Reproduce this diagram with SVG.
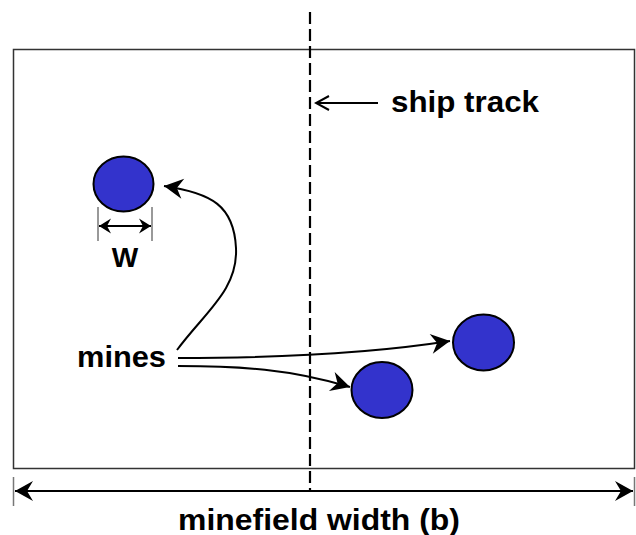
<svg xmlns="http://www.w3.org/2000/svg" width="636" height="535" viewBox="0 0 636 535">
<style>
.lbl{font-family:"Liberation Sans",Arial,sans-serif;font-weight:bold;fill:#000;font-size:29px}
.mine{fill:#3333CC;stroke:#000;stroke-width:2}
.con{fill:none;stroke:#000;stroke-width:2}
.tick{stroke:#777;stroke-width:1.5}
</style>
<defs>
<marker id="barb" markerUnits="userSpaceOnUse" markerWidth="24" markerHeight="24" viewBox="-21 -12 24 24" refX="0" refY="0" orient="auto">
<path d="M0,0 L-19,-10 L-13,0 L-19,10 Z" fill="#000"/>
</marker>
<marker id="barbS" markerUnits="userSpaceOnUse" markerWidth="16" markerHeight="16" viewBox="-14 -8 16 16" refX="0" refY="0" orient="auto-start-reverse">
<path d="M0,0 L-12,-7.5 L-8,0 L-12,7.5 Z" fill="#000"/>
</marker>
<marker id="barbD" markerUnits="userSpaceOnUse" markerWidth="24" markerHeight="24" viewBox="-21 -12 24 24" refX="0" refY="0" orient="auto-start-reverse">
<path d="M0,0 L-18,-10 L-12,0 L-18,10 Z" fill="#000"/>
</marker>
<marker id="open" markerUnits="userSpaceOnUse" markerWidth="18" markerHeight="18" viewBox="-16 -9 18 18" refX="0" refY="0" orient="auto">
<path d="M-13,-7 L0,0 L-13,7" fill="none" stroke="#000" stroke-width="2"/>
</marker>
</defs>
<g id="minefield">
<rect x="13.5" y="49.5" width="621" height="419" fill="none" stroke="#333" stroke-width="1.5"/>
</g>
<g id="ship-track">
<line x1="310" y1="12" x2="310" y2="490" stroke="#000" stroke-width="2.2" stroke-dasharray="12,5"/>
<text class="lbl" x="391" y="112" textLength="148" lengthAdjust="spacingAndGlyphs">ship track</text>
</g>
<g id="mine1">
<ellipse class="mine" cx="123.5" cy="184" rx="30" ry="27.5"/>
</g>
<g id="mine2">
<ellipse class="mine" cx="483.5" cy="342.5" rx="30.5" ry="28"/>
</g>
<g id="mine3">
<ellipse class="mine" cx="382" cy="390" rx="30.5" ry="28"/>
</g>
<g id="width-w">
<line class="tick" x1="98" y1="207" x2="98" y2="241"/>
<line class="tick" x1="152" y1="207" x2="152" y2="241"/>
<line x1="99" y1="226" x2="151" y2="226" stroke="#000" stroke-width="2" marker-start="url(#barbS)" marker-end="url(#barbS)"/>
<text class="lbl" x="125" y="267" text-anchor="middle" style="font-size:28px">W</text>
</g>
<g id="mines-label">
<text class="lbl" x="77" y="367" textLength="89" lengthAdjust="spacingAndGlyphs">mines</text>
</g>
<g id="width-b">
<line class="tick" x1="13.5" y1="477" x2="13.5" y2="506"/>
<line class="tick" x1="634.5" y1="477" x2="634.5" y2="506"/>
<line x1="15" y1="491" x2="633" y2="491" stroke="#000" stroke-width="2" marker-start="url(#barbD)" marker-end="url(#barbD)"/>
<text class="lbl" x="319" y="530" text-anchor="middle" textLength="282" lengthAdjust="spacingAndGlyphs">minefield width (b)</text>
</g>
<g id="connectors">
<line class="con" x1="378" y1="103" x2="316" y2="103" marker-end="url(#open)"/>
<path class="con" d="M177,350 C205,312 238,290 236,248 C234,206 212,193 164,186" marker-end="url(#barb)"/>
<path class="con" d="M178,358 C300,358 380,352 450,341" marker-end="url(#barb)"/>
<path class="con" d="M178,366 C240,366 290,369 350,387" marker-end="url(#barb)"/>
</g>
</svg>
